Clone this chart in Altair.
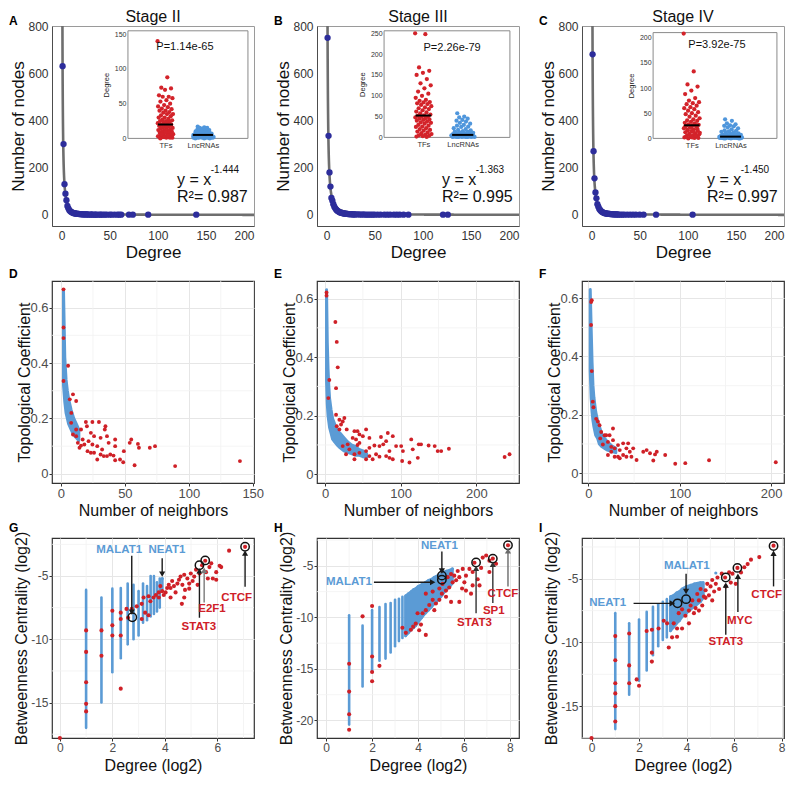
import altair as alt
import pandas as pd

FONT = "Liberation Sans"
RED = "#CF2027"
BLUE = "#5B9BD5"
NAVY = "#2D2D9B"
INSET_RED = "#D3232A"
INSET_BLUE = "#4F96DC"
GRID = "#E6E6E6"
GRID_MINOR = "#F1F1F1"
LABEL = "#4D4D4D"

W = 202
H1, H2, H3 = 200, 202, 200
COL_GAP, ROW_GAP = 63, 55
LETTER_X = -43

# ---------------- Row 1: degree distributions ----------------
STAGES = ["Stage II", "Stage III", "Stage IV"]
LETTERS = ["A", "B", "C", "D", "E", "F", "G", "H", "I"]

DEG_II = [1, 2, 3, 4, 5, 6, 7, 8, 9, 10, 11, 12, 13, 14, 15, 16, 17, 18, 19, 20, 21, 22, 23, 24, 25, 26, 27, 28,
          30, 31, 32, 34, 35, 36, 38, 40, 41, 43, 45, 47, 50, 52, 55, 58, 60, 62, 70, 74, 90, 140]
NODES_II = [630, 300, 130, 90, 62, 38, 28, 20, 15, 12, 10, 8, 7, 6, 5, 5, 4, 4, 3, 3, 3, 2, 2, 2, 2, 2, 2, 1,
            1, 2, 1, 1, 1, 1, 1, 1, 1, 1, 1, 1, 1, 1, 1, 1, 1, 1, 1, 1, 1, 1]
DEG_III = [1, 2, 3, 4, 5, 6, 7, 8, 9, 10, 11, 12, 13, 14, 15, 16, 17, 18, 19, 20, 21, 22, 23, 24, 25, 26, 27, 28, 29, 30,
           32, 34, 36, 38, 40, 42, 44, 46, 48, 50, 53, 56, 60, 63, 66, 70, 73, 76, 80, 85, 121, 126]
NODES_III = [750, 335, 180, 120, 72, 60, 45, 35, 28, 22, 18, 15, 12, 10, 9, 8, 7, 6, 5, 5, 4, 4, 3, 3, 3, 3, 2, 2, 2, 2,
             2, 2, 1, 2, 1, 1, 1, 1, 1, 1, 1, 1, 1, 1, 1, 1, 1, 1, 1, 1, 1, 1]
DEG_IV = [1, 2, 3, 4, 5, 6, 7, 8, 9, 10, 11, 12, 13, 14, 15, 16, 17, 18, 19, 20, 21, 22, 23, 24, 25, 26, 27, 28,
          30, 32, 34, 37, 40, 43, 46, 50, 54, 67, 105]
NODES_IV = [680, 270, 155, 95, 70, 45, 35, 25, 20, 15, 12, 10, 8, 7, 6, 5, 5, 4, 4, 3, 3, 3, 2, 2, 2, 2, 2, 1,
            1, 1, 1, 1, 1, 1, 1, 1, 1, 1, 1]
DEGS = [DEG_II, DEG_III, DEG_IV]
NODES = [NODES_II, NODES_III, NODES_IV]

FIT_AMP = [630, 750, 680]
FIT_EXP = [-1.444, -1.363, -1.450]
EXP_TXT = ["-1.444", "-1.363", "-1.450"]
R2_TXT = ["0.987", "0.995", "0.997"]
EQ_X, EQ_Y1, EQ_Y2, SUP_X, SUP_Y = 120, 128, 55, 155, 176

TF_II = [140, 88, 73, 72, 70, 62, 60, 60, 58, 55, 53, 50, 48, 46, 45, 43, 42, 40, 40, 38, 37, 35, 35, 33, 32, 30,
         30, 28, 27, 26, 25, 25, 24, 23, 22, 21, 20, 20, 19, 18, 17, 16, 15, 15, 14, 13, 12, 12, 11, 10, 10, 9, 8,
         8, 7, 6, 5, 5, 4, 3, 3, 2, 2, 1, 1, 0, 1, 2, 3, 4, 6, 7, 9]
LNC_II = [17, 16, 15, 15, 14, 13, 13, 12, 12, 11, 11, 10, 10, 10, 9, 9, 9, 8, 8, 8, 8, 7, 7, 7, 7, 6, 6, 6, 6, 6, 5,
          5, 5, 5, 5, 4, 4, 4, 4, 4, 4, 3, 3, 3, 3, 3, 3, 3, 2, 2, 2, 2, 2, 2, 2, 2, 1, 1, 1, 1, 1, 1, 1, 1, 0, 0, 0]
TF_III = [250, 248, 168, 160, 155, 150, 140, 130, 125, 118, 110, 105, 100, 95, 90, 88, 85, 84, 82, 80, 78, 75, 72,
          70, 68, 65, 62, 60, 58, 55, 53, 52, 50, 50, 48, 46, 45, 43, 42, 40, 38, 36, 35, 33, 30, 28, 26, 25, 22, 20,
          18, 16, 14, 12, 10, 8, 6, 5, 4, 3, 2, 1]
LNC_III = [58, 50, 48, 45, 42, 40, 38, 35, 33, 30, 28, 26, 25, 22, 20, 18, 17, 15, 14, 13, 12, 11, 10, 10, 9, 9, 8,
           8, 7, 7, 6, 6, 6, 5, 5, 5, 5, 4, 4, 4, 4, 4, 3, 3, 3, 3, 3, 3, 2, 2, 2, 2, 2, 2, 2, 1, 1, 1, 1, 1, 1, 1, 1]
TF_IV = [208, 133, 107, 103, 95, 88, 80, 75, 72, 70, 68, 65, 62, 60, 58, 55, 52, 50, 48, 45, 43, 40, 38, 36, 35, 33,
         31, 30, 28, 27, 26, 25, 24, 22, 20, 18, 16, 15, 14, 12, 10, 9, 8, 6, 5, 4, 3, 2, 1,
         0, 1, 2, 3, 5, 7, 11, 13, 17, 19, 21, 23]
LNC_IV = [38, 35, 30, 28, 26, 25, 24, 22, 20, 18, 16, 15, 14, 13, 12, 11, 10, 9, 8, 8, 7, 7, 6, 6, 5, 5, 5, 4, 4, 4,
          4, 3, 3, 3, 3, 3, 2, 2, 2, 2, 2, 2, 1, 1, 1, 1, 1, 1, 1, 0, 0, 0, 1, 1, 2, 2, 3, 0, 0, 1, 2, 3]
TFS = [TF_II, TF_III, TF_IV]
LNCS = [LNC_II, LNC_III, LNC_IV]
INSET_MAX = [155, 256, 210]
INSET_TICKS = [[0, 50, 100, 150], [0, 50, 100, 150, 200, 250], [0, 50, 100, 150, 200]]
INSET_BOX = [[0.376, 0.97, 0.024, 0.562], [0.332, 0.955, 0.024, 0.557], [0.352, 0.965, 0.033, 0.562]]
P_TXT = ["P=1.14e-65", "P=2.26e-79", "P=3.92e-75"]
P_X = [1.52, 1.73, 1.65]
P_Y = [132, 215, 185]

# ---------------- Row 2: topological coefficient ----------------
R2_XDOM = [[-7, 151], [-10.6, 256.5], [-7, 214]]
R2_YDOM = [[-0.033, 0.696], [-0.03, 0.66], [-0.034, 0.659]]
R2_XTICKS = [[0, 50, 100, 150], [0, 100, 200], [0, 100, 200]]
R2_XMINOR = [[25, 75, 125], [50, 150, 250], [50, 150]]
R2_YMINOR = [0.1, 0.3, 0.5]

D_RX = [2, 2, 2, 5.6, 2, 9.4, 11.9, 6.9, 8.0, 9.4, 11.9, 15.7, 13.2, 15.7, 19.5, 20.3, 24.6, 29.7, 34.8, 34.3,
        23.4, 25.9, 21.6, 17.0, 18.3, 24.6, 28.4, 31.0, 36.0, 42.4, 37.3, 42.4, 32.2, 23.4, 25.9, 28.4, 31.0, 33.5,
        36.0, 38.6, 41.1, 42.4, 46.2, 48.7, 49.2, 53.8, 55.0, 60.2, 61.0, 69.5, 73.6, 57.6, 89.3, 140.0, 20.8, 14.5,
        11.9, 8.1]
D_RY = [0.666, 0.528, 0.49, 0.39, 0.335, 0.287, 0.263, 0.269, 0.184, 0.142, 0.16, 0.16, 0.112, 0.102, 0.187, 0.172,
        0.187, 0.187, 0.172, 0.16, 0.148, 0.136, 0.118, 0.124, 0.106, 0.106, 0.1, 0.13, 0.136, 0.124, 0.112, 0.1,
        0.088, 0.076, 0.076, 0.052, 0.07, 0.064, 0.064, 0.07, 0.066, 0.049, 0.052, 0.042, 0.082, 0.112, 0.124, 0.108,
        0.094, 0.094, 0.1, 0.031, 0.028, 0.046, 0.082, 0.094, 0.136, 0.22]
E_RX = [2, 2, 13.7, 15.5, 16.8, 14.6, 4.4, 5.7, 14.6, 19, 21.2, 25.6, 23.4, 28.7, 19, 15.5, 38.9, 43, 54.3, 45.5,
        41, 50, 36.6, 45.5, 30, 23.4, 32.2, 27.8, 38.9, 45.5, 54.3, 58.7, 65.3, 72, 77, 80.8, 83, 89.6, 94, 85.2,
        80.8, 85.2, 89.6, 63, 54.3, 100.7, 103, 102, 114, 116, 111.7, 124, 122.7, 127, 137, 145, 149, 153.6, 163.8,
        237.5, 244, 38.9, 43, 58.7, 67.5, 72, 58.7, 74]
E_RY = [0.621, 0.61, 0.52, 0.452, 0.365, 0.294, 0.26, 0.322, 0.203, 0.186, 0.17, 0.192, 0.18, 0.153, 0.153, 0.164,
        0.147, 0.147, 0.153, 0.136, 0.119, 0.13, 0.124, 0.107, 0.102, 0.096, 0.085, 0.068, 0.068, 0.073, 0.079,
        0.09, 0.098, 0.096, 0.102, 0.113, 0.141, 0.13, 0.096, 0.079, 0.062, 0.056, 0.051, 0.051, 0.051, 0.096,
        0.079, 0.045, 0.119, 0.085, 0.04, 0.102, 0.056, 0.102, 0.098, 0.096, 0.079, 0.079, 0.087, 0.059, 0.068,
        0.051, 0.1, 0.062, 0.068, 0.06, 0.124, 0.127]
F_RX = [3.7, 3.0, 2.9, 3.7, 4.8, 5.5, 8.5, 10.3, 12.2, 14, 12.9, 15.8, 17.7, 21.4, 23.2, 26.9, 25, 28.7, 32.4, 34.3,
        38, 41.6, 43.5, 45.3, 49, 38, 32.4, 21.4, 25, 28.7, 34.3, 41.6, 47.1, 52.7, 60, 63.7, 67.4, 72.9, 74.8, 71,
        84, 95, 106, 132, 205, 19.5, 26.9]
F_RY = [0.593, 0.587, 0.508, 0.35, 0.245, 0.226, 0.186, 0.177, 0.164, 0.141, 0.119, 0.098, 0.13, 0.107, 0.13, 0.153,
        0.09, 0.085, 0.096, 0.079, 0.102, 0.085, 0.102, 0.073, 0.085, 0.062, 0.056, 0.062, 0.073, 0.056, 0.051,
        0.056, 0.056, 0.045, 0.073, 0.079, 0.068, 0.064, 0.073, 0.043, 0.062, 0.032, 0.034, 0.044, 0.037, 0.13,
        0.113]
R2_RX = [D_RX, E_RX, F_RX]
R2_RY = [D_RY, E_RY, F_RY]

D_BX = [2, 3, 4, 5, 6, 8, 10, 12, 14]
D_BLO = [0.32, 0.26, 0.22, 0.2, 0.18, 0.16, 0.14, 0.13, 0.12]
D_BHI = [0.66, 0.42, 0.34, 0.3, 0.27, 0.23, 0.2, 0.18, 0.16]
E_BX = [2, 3, 4, 5, 6, 8, 10, 13, 16, 20, 25, 30, 35, 40, 45, 50, 55]
E_BLO = [0.32, 0.24, 0.2, 0.18, 0.16, 0.14, 0.12, 0.11, 0.1, 0.09, 0.08, 0.075, 0.07, 0.065, 0.065, 0.06, 0.058]
E_BHI = [0.63, 0.45, 0.36, 0.3, 0.26, 0.22, 0.19, 0.17, 0.15, 0.14, 0.125, 0.11, 0.1, 0.095, 0.085, 0.08, 0.07]
F_BX = [2, 3, 4, 5, 6, 8, 10, 12, 15, 20, 25, 30]
F_BLO = [0.35, 0.26, 0.21, 0.18, 0.16, 0.13, 0.12, 0.1, 0.09, 0.08, 0.075, 0.07]
F_BHI = [0.63, 0.5, 0.38, 0.3, 0.26, 0.21, 0.18, 0.16, 0.13, 0.11, 0.095, 0.085]
R2_BX = [D_BX, E_BX, F_BX]
R2_BLO = [D_BLO, E_BLO, F_BLO]
R2_BHI = [D_BHI, E_BHI, F_BHI]

# ---------------- Row 3: betweenness centrality ----------------
R3_XDOM = [[-0.3, 7.4], [-0.4, 8.4], [-0.4, 8.1]]
R3_YDOM = [[-17.8, -2.0], [-21.7, -2.3], [-17.5, -1.8]]
R3_XTICKS = [[0, 2, 4, 6], [0, 2, 4, 6, 8], [0, 2, 4, 6, 8]]
R3_YTICKS = [[-15, -10, -5], [-20, -15, -10, -5], [-15, -10, -5]]
R3_XMINOR = [1, 3, 5, 7]
R3_YMINOR = [[-17.5, -12.5, -7.5, -2.5], [-17.5, -12.5, -7.5, -2.5], [-17.5, -12.5, -7.5, -2.5]]
R3_AREA_KMIN = [100, 11, 10]

G_K = [2, 3, 4, 5, 6, 7, 8, 9, 10, 11, 12, 13, 14, 15]
G_LO = [-17, -15, -12.6, -11.5, -10.4, -10, -9.7, -8.7, -8.5, -8.2, -8, -7.8, -7.5, -6.0]
G_HI = [-6.1, -6.7, -6, -5.95, -5.6, -5.7, -6.2, -5.6, -5.8, -5.0, -5.0, -5.5, -5.2, -5.2]
H_K = [2, 3, 4, 5, 6, 7, 8, 9, 10, 11, 12, 13, 14, 15, 16, 18, 20, 22, 24, 26, 28, 30, 32, 35, 38, 42, 45]
H_LO = [-20.4, -16.7, -15.3, -14.2, -14, -13.4, -12.8, -12.3, -12, -11.8, -11.5, -11.2, -11, -10.8, -10.5, -10, -9.6,
        -9.3, -9, -8.7, -8.5, -8.2, -8, -7.6, -7.3, -7, -6.7]
H_HI = [-9.8, -10.8, -9.3, -9, -8.7, -8.6, -8.3, -8.2, -8, -7.9, -7.7, -7.5, -7.3, -7.2, -7, -6.8, -6.6, -6.4, -6.3,
        -6.1, -6, -5.9, -5.8, -5.6, -5.5, -5.4, -5.3]
I_K = [2, 3, 4, 5, 6, 7, 8, 9, 10, 11, 12, 13, 14, 16, 18, 20, 24, 26]
I_LO = [-16.8, -14.1, -13, -12.2, -11, -10.3, -9.8, -9.6, -9.1, -8.8, -8.5, -8.3, -8.0, -7.7, -7.4, -7.2, -6.8, -6.5]
I_HI = [-7.7, -8.5, -8.2, -7.6, -7.2, -7, -6.8, -6.6, -6.4, -6.3, -6.1, -6.0, -5.8, -5.6, -5.5, -5.4, -5.3, -5.3]
R3_K = [G_K, H_K, I_K]
R3_LO = [G_LO, H_LO, I_LO]
R3_HI = [G_HI, H_HI, I_HI]
R3_BX_EXTRA = [[3.9], [5.5], [5.23]]
R3_BY_EXTRA = [[-5.2], [-5.3], [-4.55]]

G_RX = [2.74, 2.93, 3.12, 3.25, 3.38, 3.45, 3.57, 3.66, 3.77, 3.9, 3.96, 4.03, 4.09, 4.15, 4.22, 4.28, 4.35, 4.41,
        4.48, 4.54, 4.6, 4.67, 4.74, 4.77, 4.86, 4.93, 4.99, 5.06, 5.12, 5.19, 5.25, 5.32, 5.42, 5.54, 5.57, 5.7,
        5.77, 5.83, 5.96, 6.09, 6.15, 6.45, 7.06, 3.77, 3.38, 3.19, 4.22, 4.74, 4.93, 3.83, 5.64, 5.96, 4.65, 3.12,
        2.6, 2.32, 2.54, 1, 1, 1, 1, 1, 0, 1.585, 1.585, 2, 2, 2.32, 2.32, 2.32, 2]
G_RY = [-7.6, -7.4, -7.2, -7.9, -8.1, -7, -6.7, -6.5, -6.3, -6.2, -6.5, -6.3, -5.95, -5.7, -5.95, -5.4, -5.8, -6.3,
        -5.6, -5.3, -5.05, -5.7, -4.9, -6.1, -5.2, -5.6, -4.8, -5.4, -5.05, -4.5, -5.7, -4.8, -4.15, -3.8, -4.7, -4.3,
        -4, -5.2, -4.7, -4.2, -4.3, -3, -2.7, -6.7, -6.6, -6.7, -6.7, -6.7, -6, -5.8, -5.2, -5.3, -7.2, -8.4, -8.3,
        -8.4, -7.6, -9.3, -11, -13.4, -15.1, -15.7, -17.8, -9.3, -11.3, -7.75, -9.7, -7.9, -9.7, -13.9, -8.9]
H_RX = [1, 1, 1, 1, 1.585, 2, 2, 2, 2, 2.32, 3.9, 3.69, 3.47, 4.05, 4.34, 4.13, 3.98, 4.2, 4.34, 4.49, 4.64, 4.78,
        4.93, 5.04, 5.22, 5.36, 5.44, 5.51, 5.66, 5.8, 5.8, 5.92, 6.02, 6.09, 6.24, 6.38, 6.46, 6.6, 6.68, 6.75, 6.82,
        6.97, 7.11, 7.26, 7.4, 7.11, 7.92, 5.73, 5.95, 5.58, 5.29, 5.07, 4.93, 4.71, 5.22, 6.09, 6.38, 4.34, 4.64,
        6.31, 5.44, 3.32, 3.79]
H_RY = [-14.5, -17.2, -19.4, -20.9, -9.9, -8.9, -13.8, -15.3, -16.2, -14.7, -10.6, -11.2, -11.5, -11.25, -11.7,
        -10.7, -9.6, -9.6, -9.3, -8.8, -8.3, -8.65, -8.3, -7.7, -7.4, -7.1, -8.5, -6.6, -6.4, -6.1, -8.5, -7.2, -6.6,
        -5.95, -5.3, -5.6, -4.7, -6.3, -6.9, -5.2, -4.2, -4, -4.5, -4.3, -4.8, -5.6, -3, -5.5, -5.3, -5.95, -6.1,
        -6.75, -7.2, -9.3, -8, -7.4, -6.9, -7.7, -7.5, -7.7, -5.8, -11, -10.9]
I_RX = [0, 1, 1, 1, 1, 1, 1, 1.585, 1.585, 1.585, 2, 2.32, 1.9, 2.54, 2.54, 2.54, 2.82, 3.04, 3.18, 3.25, 3.39, 3.46,
        3.6, 3.67, 3.81, 3.95, 4.1, 4.17, 4.24, 4.31, 4.38, 4.45, 4.52, 4.59, 4.66, 4.73, 4.8, 4.87, 4.94, 5.01, 5.08,
        5.16, 5.23, 5.3, 5.37, 5.48, 5.62, 5.79, 5.93, 6.14, 6.29, 6.43, 6.57, 6.71, 7.06, 7.66, 5.65, 4.52, 4.1,
        3.81, 3.6, 4.8, 5.08, 5.86, 6.07]
I_RY = [-17.5, -9.5, -11.4, -13.2, -14, -15, -16.2, -9.3, -11.8, -13.2, -13.4, -9.1, -12.9, -9, -10.8, -11.5, -8.9,
        -8.3, -8.5, -10.4, -9.6, -8.5, -8.9, -7.7, -7.4, -7.9, -7.5, -7.1, -6.7, -7.7, -7.3, -6.2, -6.7, -5.8, -7.1,
        -6.4, -5.9, -5.4, -6.3, -5.6, -5.1, -6, -5.4, -4.9, -5.8, -4.6, -4.9, -4.5, -4.6, -4.15, -4.5, -4.1, -3.85,
        -3.5, -3.3, -2.4, -5.6, -7.5, -8.5, -8.9, -9.55, -6.5, -6.7, -5.3, -5.4]
R3_RX = [G_RX, H_RX, I_RX]
R3_RY = [G_RY, H_RY, I_RY]

RING_X = [[2.76, 5.32, 5.54, 7.06], [5.04, 5.04, 6.53, 7.26, 7.92], [3.98, 3.62, 5.65, 6.14, 7.66]]
RING_Y = [[-8.26, -4.15, -3.77, -2.69], [-5.95, -6.35, -4.68, -4.3, -3.0], [-6.6, -6.93, -4.9, -4.15, -2.43]]
ARR_X1 = [[2.74, 3.9, 5.32, 5.5, 7.06], [5.04, 2.08, 6.53, 7.26, 7.92], [3.98, 1.77, 5.65, 6.16, 7.66]]
ARR_Y1 = [[-3.4, -3.6, -8.3, -7.1, -5.85], [-3.6, -6.59, -9.6, -8.6, -7.0], [-4.6, -6.93, -9.4, -7.6, -5.6]]
ARR_X2 = [[2.74, 3.9, 5.32, 5.5, 7.06], [5.04, 4.64, 6.53, 7.26, 7.92], [3.98, 3.4, 5.65, 6.16, 7.66]]
ARR_Y2 = [[-7.85, -4.85, -4.6, -4.55, -3.2], [-5.5, -6.59, -5.25, -4.85, -3.55], [-6.0, -6.93, -5.5, -4.8, -3.0]]
ARR_DIR = [["triangle-down", "triangle-down", "triangle-up", "triangle-up", "triangle-up"],
           ["triangle-down", "triangle-right", "triangle-up", "triangle-up", "triangle-up"],
           ["triangle-down", "triangle-right", "triangle-up", "triangle-up", "triangle-up"]]
ARR_COL = [["#1a1a1a", "#1a1a1a", "#1a1a1a", "#7a7a7a", "#1a1a1a"],
           ["#1a1a1a", "#1a1a1a", "#333333", "#333333", "#6a6a6a"],
           ["#1a1a1a", "#1a1a1a", "#1a1a1a", "#1a1a1a", "#1a1a1a"]]
LAB_X = [[2.26, 4.08, 5.3, 5.8, 6.74], [4.93, 0.99, 6.46, 7.3, 7.7], [4.01, 0.68, 5.65, 6.24, 7.37]]
LAB_Y = [[-2.94, -2.94, -9.04, -7.62, -6.72], [-3.1, -6.59, -10.56, -9.35, -7.7], [-3.97, -6.93, -9.96, -8.3, -6.3]]
LAB_T = [["MALAT1", "NEAT1", "STAT3", "E2F1", "CTCF"], ["NEAT1", "MALAT1", "STAT3", "SP1", "CTCF"],
         ["MALAT1", "NEAT1", "STAT3", "MYC", "CTCF"]]
LAB_KIND = [["lnc", "lnc", "tf", "tf", "tf"], ["lnc", "lnc", "tf", "tf", "tf"], ["lnc", "lnc", "tf", "tf", "tf"]]


def letter_layer(letter, y):
    return alt.Chart(pd.DataFrame({"t": [letter]})).mark_text(
        align="left", baseline="top", fontSize=12, fontWeight="bold", color="black"
    ).encode(x=alt.value(LETTER_X), y=alt.value(y), text="t:N")


# ---------------- Row 1 panels ----------------
def axis_r1(title, values, flush=False, title_pad=0):
    kw = dict(title=title, values=values, grid=False, domainColor="#4d4d4d", domainWidth=1, ticks=False,
              labelPadding=4, labelFontSize=12, labelColor="#333333", titleFontSize=17,
              titleFontWeight="normal", titleColor="#111111", titlePadding=title_pad)
    if flush:
        kw["labelFlush"] = True
    return alt.Axis(**kw)


def row1(i):
    xs = alt.Scale(domain=[-10, 200], nice=False, zero=False)
    ys = alt.Scale(domain=[-47, 800], nice=False, zero=False)
    axx = axis_r1("Degree", [0, 50, 100, 150, 200], flush=(i == 2), title_pad=3)
    axy = axis_r1("Number of nodes", [0, 200, 400, 600, 800], title_pad=0)

    def X(f):
        return alt.X(f, scale=xs, axis=axx)

    def Y(f):
        return alt.Y(f, scale=ys, axis=axy)

    fit = alt.Chart(alt.sequence(0.3, 200.1, 0.1, as_="x")).transform_calculate(
        y=f"{FIT_AMP[i]} * pow(datum.x, {FIT_EXP[i]})"
    ).mark_line(color="#6e6e6e", strokeWidth=2.6, clip=True).encode(x=X("x:Q"), y=Y("y:Q"))
    pts = alt.Chart(pd.DataFrame({"d": DEGS[i], "n": NODES[i]})).mark_circle(
        size=40, color=NAVY, opacity=1).encode(x=X("d:Q"), y=Y("n:Q"))
    eq_big = alt.Chart(pd.DataFrame({"x": [EQ_X, EQ_X], "y": [EQ_Y1, EQ_Y2],
                                     "t": ["y = x", "R²= " + R2_TXT[i]]})).mark_text(
        align="left", baseline="alphabetic", fontSize=16, color="#111111").encode(x=X("x:Q"), y=Y("y:Q"), text="t:N")
    eq_sup = alt.Chart(pd.DataFrame({"x": [SUP_X], "y": [SUP_Y], "t": [EXP_TXT[i]]})).mark_text(
        align="left", baseline="alphabetic", fontSize=10, color="#111111").encode(x=X("x:Q"), y=Y("y:Q"), text="t:N")
    stage = alt.Chart(pd.DataFrame({"t": [STAGES[i]]})).mark_text(
        align="center", baseline="alphabetic", fontSize=16, color="#111111"
    ).encode(x=alt.value(W / 2), y=alt.value(-4), text="t:N")
    main = alt.layer(fit, pts, eq_big, eq_sup, stage, letter_layer(LETTERS[i], -10))

    bx0, bx1, by0, by1 = INSET_BOX[i]
    ixs = alt.Scale(domain=[0, 3.2], range=[bx0 * W, bx1 * W], nice=False, zero=False)
    iys = alt.Scale(domain=[0, INSET_MAX[i]], range=[by1 * H1, by0 * H1], nice=False, zero=False)
    iax = alt.Axis(orient="bottom", offset=-(H1 - by1 * H1), values=[1, 2],
                   labelExpr="datum.value == 1 ? 'TFs' : 'LncRNAs'", title=None, grid=False, domain=False,
                   ticks=False, labelFontSize=7.5, labelColor="#333333", labelPadding=3)
    iay = alt.Axis(orient="left", offset=-(bx0 * W), values=INSET_TICKS[i], title="Degree", titleFontSize=7.5,
                   titleFontWeight="normal", titleColor="#222222", titlePadding=4, grid=False, domain=False,
                   ticks=False, labelFontSize=7, labelColor="#333333", labelPadding=2)

    rows = []
    tf = TFS[i]
    for k, v in enumerate(tf):
        u = (k * 0.6180339887) % 1.0 - 0.5
        rows.append({"cat": 1, "deg": v, "xp": 1 + u * 0.42, "col": INSET_RED})
    lnc = LNCS[i]
    m = max(lnc)
    for k, v in enumerate(lnc):
        u = (k * 0.6180339887) % 1.0 - 0.5
        rows.append({"cat": 2, "deg": v, "xp": 2 + u * 0.62 * (1 - 0.55 * v / m), "col": INSET_BLUE})
    idf = pd.DataFrame(rows)

    frame = alt.Chart(pd.DataFrame({"a": [0]})).mark_rect(fill="white", stroke="#8a8a8a", strokeWidth=1).encode(
        x=alt.X(datum=0, type="quantitative", scale=ixs, axis=iax), x2=alt.X2(datum=3.2),
        y=alt.Y(datum=0, type="quantitative", scale=iys, axis=iay), y2=alt.Y2(datum=INSET_MAX[i]))
    ipts = alt.Chart(idf).mark_circle(size=18, opacity=1).encode(
        x=alt.X("xp:Q", scale=ixs, axis=iax), y=alt.Y("deg:Q", scale=iys, axis=iay),
        color=alt.Color("col:N", scale=None))
    med = alt.Chart(idf).transform_aggregate(med="median(deg)", groupby=["cat"]).transform_calculate(
        xa="datum.cat - (datum.cat == 1 ? 0.2 : 0.27)", xb="datum.cat + (datum.cat == 1 ? 0.2 : 0.27)"
    ).mark_rule(color="black", strokeWidth=2).encode(
        x=alt.X("xa:Q", scale=ixs, axis=iax), x2="xb:Q", y=alt.Y("med:Q", scale=iys, axis=iay))
    ptxt = alt.Chart(pd.DataFrame({"x": [P_X[i]], "y": [P_Y[i]], "t": [P_TXT[i]]})).mark_text(
        fontSize=11, color="#111111", baseline="middle").encode(
        x=alt.X("x:Q", scale=ixs, axis=iax), y=alt.Y("y:Q", scale=iys, axis=iay), text="t:N")
    inset = alt.layer(frame, ipts, med, ptxt)

    return alt.layer(main, inset).resolve_scale(x="independent", y="independent").properties(
        width=W, height=H1, view=alt.ViewBackground(stroke="#9a9a9a", strokeWidth=1))


# ---------------- ggplot-like axes ----------------
def axis_gg(title, values, title_pad, fmt=None, label_expr=None, label_size=13):
    kw = dict(title=title, values=values, grid=True, gridColor=GRID, gridWidth=1, domain=False, ticks=True,
              tickColor="#333333", tickSize=3, labelPadding=1, labelColor=LABEL, labelFontSize=label_size,
              titleFontSize=16, titleFontWeight="normal", titleColor="#111111", titlePadding=title_pad)
    if fmt:
        kw["format"] = fmt
    if label_expr:
        kw["labelExpr"] = label_expr
    return alt.Axis(**kw)


def minor_grid(xminor, yminor, X, Y):
    gx = alt.Chart(pd.DataFrame({"v": xminor})).mark_rule(color=GRID_MINOR, strokeWidth=0.8).encode(x=X("v:Q"))
    gy = alt.Chart(pd.DataFrame({"v": yminor})).mark_rule(color=GRID_MINOR, strokeWidth=0.8).encode(y=Y("v:Q"))
    return [gx, gy]


def row2(i):
    xs = alt.Scale(domain=R2_XDOM[i], nice=False, zero=False)
    ys = alt.Scale(domain=R2_YDOM[i], nice=False, zero=False)
    axx = axis_gg("Number of neighbors", R2_XTICKS[i], 2)
    axy = axis_gg("Topological Coefficient", [0, 0.2, 0.4, 0.6], -3, fmt=".1~f")

    def X(f):
        return alt.X(f, scale=xs, axis=axx)

    def Y(f):
        return alt.Y(f, scale=ys, axis=axy)

    band = alt.Chart(pd.DataFrame({"x": R2_BX[i], "lo": R2_BLO[i], "hi": R2_BHI[i]})).mark_area(
        color=BLUE, stroke=BLUE, strokeWidth=3, strokeJoin="round", opacity=1).encode(
        x=X("x:Q"), y=Y("lo:Q"), y2="hi:Q")
    red = alt.Chart(pd.DataFrame({"x": R2_RX[i], "y": R2_RY[i]})).mark_circle(
        size=15, color=RED, opacity=1).encode(x=X("x:Q"), y=Y("y:Q"))
    layers = minor_grid(R2_XMINOR[i], R2_YMINOR, X, Y) + [band, red, letter_layer(LETTERS[3 + i], -12)]
    return alt.layer(*layers).properties(width=W, height=H2,
                                         view=alt.ViewBackground(stroke="#333333", strokeWidth=1.2))


def row3(i):
    xs = alt.Scale(domain=R3_XDOM[i], nice=False, zero=False)
    ys = alt.Scale(domain=R3_YDOM[i], nice=False, zero=False)
    axx = axis_gg("Degree (log2)", R3_XTICKS[i], 4, label_size=12)
    axy = axis_gg("Betweenness Centrality (log2)", R3_YTICKS[i], 1, label_expr="'' + datum.value", label_size=12)

    def X(f):
        return alt.X(f, scale=xs, axis=axx)

    def Y(f):
        return alt.Y(f, scale=ys, axis=axy)

    cdf = pd.DataFrame({"k": R3_K[i], "lo": R3_LO[i], "hi": R3_HI[i]})
    cols = alt.Chart(cdf).transform_calculate(
        x="log(datum.k) / LN2").mark_rule(color=BLUE, strokeWidth=2.6, strokeCap="round").encode(
        x=X("x:Q"), y=Y("lo:Q"), y2="hi:Q")
    cloud = alt.Chart(cdf).transform_filter(f"datum.k >= {R3_AREA_KMIN[i]}").transform_calculate(
        x="log(datum.k) / LN2").mark_area(color=BLUE, stroke=BLUE, strokeWidth=2.6, strokeJoin="round",
                                           opacity=1).encode(x=X("x:Q"), y=Y("lo:Q"), y2="hi:Q")
    bx = alt.Chart(pd.DataFrame({"x": R3_BX_EXTRA[i], "y": R3_BY_EXTRA[i]})).mark_circle(
        size=10, color=BLUE, opacity=1).encode(x=X("x:Q"), y=Y("y:Q"))
    red = alt.Chart(pd.DataFrame({"x": R3_RX[i], "y": R3_RY[i]})).mark_circle(
        size=17, color=RED, opacity=1).encode(x=X("x:Q"), y=Y("y:Q"))
    rings = alt.Chart(pd.DataFrame({"x": RING_X[i], "y": RING_Y[i]})).mark_point(
        shape="circle", filled=False, stroke="#111111", strokeWidth=1.5, size=70, opacity=1).encode(
        x=X("x:Q"), y=Y("y:Q"))
    adf = pd.DataFrame({"x1": ARR_X1[i], "y1": ARR_Y1[i], "x2": ARR_X2[i], "y2": ARR_Y2[i],
                        "s": ARR_DIR[i], "c": ARR_COL[i]})
    shafts = alt.Chart(adf).mark_rule(strokeWidth=1.4).encode(
        x=X("x1:Q"), y=Y("y1:Q"), x2="x2:Q", y2="y2:Q", color=alt.Color("c:N", scale=None))
    heads = alt.Chart(adf).mark_point(filled=True, size=38, opacity=1).encode(
        x=X("x2:Q"), y=Y("y2:Q"), shape=alt.Shape("s:N", scale=None), color=alt.Color("c:N", scale=None))
    ldf = pd.DataFrame({"x": LAB_X[i], "y": LAB_Y[i], "t": LAB_T[i],
                        "c": [BLUE if k == "lnc" else RED for k in LAB_KIND[i]]})
    labels = alt.Chart(ldf).mark_text(fontSize=11.5, fontWeight="bold", baseline="middle").encode(
        x=X("x:Q"), y=Y("y:Q"), text="t:N", color=alt.Color("c:N", scale=None))
    layers = minor_grid(R3_XMINOR, R3_YMINOR[i], X, Y) + [cols, cloud, bx, red, rings, shafts, heads, labels,
                                                          letter_layer(LETTERS[6 + i], -15)]
    return alt.layer(*layers).properties(width=W, height=H3,
                                         view=alt.ViewBackground(stroke="#333333", strokeWidth=1.2))


panels = [row1(0), row1(1), row1(2), row2(0), row2(1), row2(2), row3(0), row3(1), row3(2)]

chart = alt.concat(*panels, columns=3, spacing={"row": ROW_GAP, "column": COL_GAP}, bounds="flush").properties(
    padding=0
).configure(font=FONT).configure_axis(labelFont=FONT, titleFont=FONT).configure_text(font=FONT).configure_title(
    font=FONT)

chart.save("out.html", embed_options={"renderer": "svg", "actions": False})
